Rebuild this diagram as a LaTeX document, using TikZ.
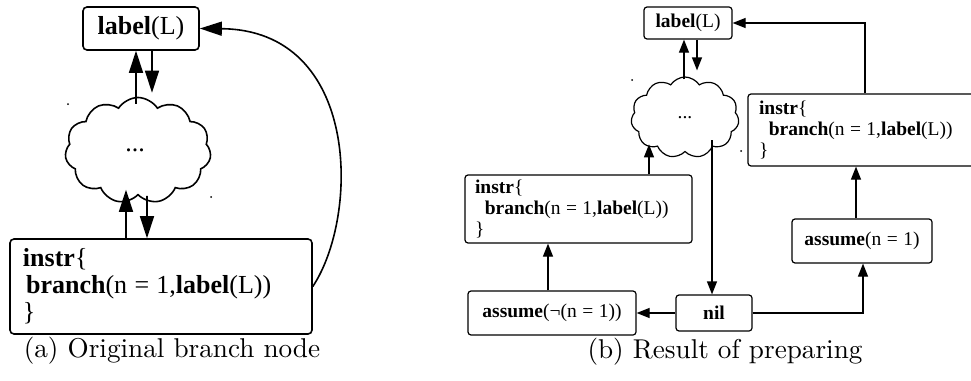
\documentclass[tikz,border=0pt]{standalone}
\usepackage{fontspec}
\newfontfamily\tms{Liberation Serif}
\usetikzlibrary{shapes.symbols,arrows.meta,calc}
\newcommand{\eqsp}{\hspace{0.28em}=\hspace{0.28em}}
\begin{document}
\begin{tikzpicture}[x=1pt,y=-1pt,
  % panel (a): large scale
  boxA/.style={draw, line width=1.6pt, rounded corners=4pt, inner sep=0pt,
    font=\tms\fontsize{26}{27}\selectfont},
  cloudA/.style={draw, line width=1.6pt, cloud, cloud puffs=11, cloud puff arc=115,
    aspect=1.45, inner sep=0pt, font=\tms\fontsize{26}{27}\selectfont},
  arrA/.style={line width=1.6pt, -{Triangle[length=22pt,width=14pt]}},
  % panel (b): smaller scale
  boxB/.style={draw, line width=1.2pt, rounded corners=3pt, inner sep=0pt,
    font=\tms\fontsize{19.5}{21}\selectfont},
  cloudB/.style={draw, line width=1.2pt, cloud, cloud puffs=11, cloud puff arc=115,
    aspect=1.4, inner sep=0pt, font=\tms\fontsize{19.5}{21}\selectfont},
  arrB/.style={line width=1.2pt, -{Triangle[length=13pt,width=10pt]}},
  caption/.style={inner sep=0pt, font=\fontsize{10}{12}\selectfont},
  speck/.style={fill=black, inner sep=0pt, minimum size=2pt, circle}
]
\useasboundingbox (0,0) rectangle (971,380);
\clip (0,0) rectangle (971,380);

% ---------------- (a) Original branch node ----------------
\node[boxA, minimum width=116pt, minimum height=43pt] (labA) at (141,28.5)
  {\textbf{label}(L)};
\node[cloudA, minimum width=146pt, minimum height=106pt] (cloudA) at (138,150.5)
  {\hspace*{-6pt}...};
\node[boxA, minimum width=302pt, minimum height=95pt, text width=276pt, align=left,
  inner xsep=13pt] (instrA) at (161,286.5)
  {\textbf{instr}\{\\\hspace{0.12em}\textbf{branch}(n\eqsp1,\textbf{label}(L))\\\}};

\draw[arrA] ($(cloudA.north)+(-2,7)$) -- ($(labA.south)+(-5,0)$);
\draw[arrA] ($(labA.south)+(11,0)$) -- ($(cloudA.north)+(14,-4)$);
\draw[arrA] ($(instrA.north)+(-35,0)$) -- ($(cloudA.south)+(-12,-6)$);
\draw[arrA] ($(cloudA.south)+(9,0)$) -- ($(instrA.north)+(-14,0)$);
\draw[arrA] (instrA.east) .. controls (360,215) and (360,30) .. (labA.east);

\node[speck] (sa1) at (68,104) {};
\node[speck] (sa2) at (211,197) {};

\node[caption] (capA) at (172,351) {\scalebox{2.72}{(a) Original branch node}};

% ---------------- (b) Result of preparing ----------------
\node[boxB, minimum width=88pt, minimum height=32pt] (labB) at (688,23)
  {\textbf{label}(L)};
\node[cloudB, minimum width=108pt, minimum height=81pt] (cloudB) at (685,117.5) {...};
\node[boxB, minimum width=242pt, minimum height=72pt, text width=220pt, align=left,
  inner xsep=11pt] (instrR) at (869,130)
  {\textbf{instr}\{\\\hspace{0.5em}\textbf{branch}(n\eqsp1,\textbf{label}(L))\\\}};
\node[boxB, minimum width=227pt, minimum height=68pt, text width=207pt, align=left,
  inner xsep=10pt] (instrL) at (578.5,209)
  {\textbf{instr}\{\\\hspace{0.5em}\textbf{branch}(n\eqsp1,\textbf{label}(L))\\\}};
\node[boxB, minimum width=168pt, minimum height=44pt] (assumeN) at (552,313)
  {\textbf{assume}(\textlnot(n\eqsp1))};
\node[boxB, minimum width=76pt, minimum height=36pt] (nil) at (714,313) {\textbf{nil}};
\node[boxB, minimum width=140pt, minimum height=44pt] (assumeP) at (862,241)
  {\textbf{assume}(n\eqsp1)};

\draw[arrB] ($(cloudB.north)+(-1,3)$) -- ($(labB.south)+(-4,0)$);
\draw[arrB] ($(labB.south)+(9,0)$) -- ($(cloudB.north)+(12,-6)$);
\draw[arrB] ($(instrL.north)+(70.5,0)$) -- ($(cloudB.south)+(-36,-8)$);
\draw[arrB] ($(cloudB.south)+(27,-12)$) -- ($(nil.north)+(-2,0)$);
\draw[arrB] ($(assumeN.north)+(-4,0)$) -- ($(instrL.south)+(-30.5,0)$);
\draw[arrB] (nil.west) -- (assumeN.east);
\draw[arrB] (nil.east) -| ($(assumeP.south)+(1,0)$);
\draw[arrB] ($(assumeP.north)+(-6,0)$) -- ($(instrR.south)+(-13,0)$);
\draw[arrB] ($(instrR.north)+(-4,0)$) |- (labB.east);

\node[speck] (sb1) at (632,80) {};
\node[speck] (sb2) at (741,151) {};

\node[caption] (capB) at (725,352) {\scalebox{2.72}{(b) Result of preparing}};
\end{tikzpicture}
\end{document}
